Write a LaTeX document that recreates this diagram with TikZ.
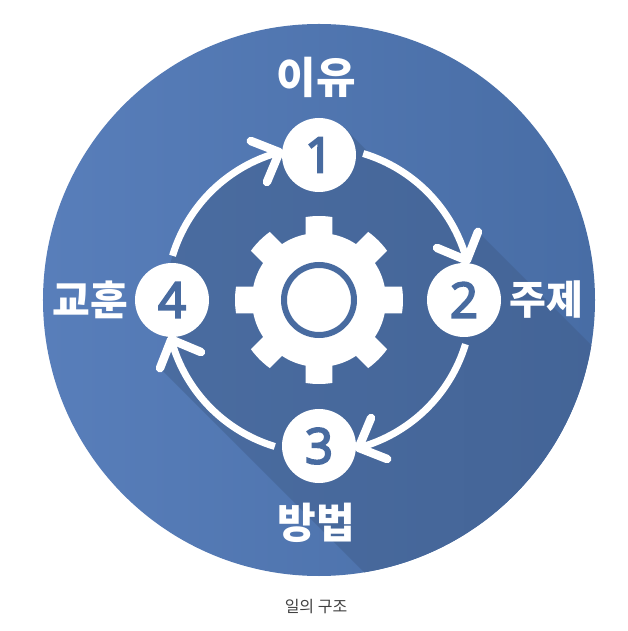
\documentclass[tikz,border=0pt]{standalone}
\usepackage{fontspec}
\setmainfont{Noto Sans CJK KR}
\newfontfamily\numfont[FakeBold=4]{Open Sans}
\definecolor{discL}{RGB}{88,126,186}
\definecolor{discR}{RGB}{72,109,165}
\definecolor{darkL}{RGB}{74,108,160}
\definecolor{darkR}{RGB}{65,97,147}
\definecolor{numblue}{RGB}{72,107,160}
\definecolor{captiongray}{RGB}{65,65,65}
\tikzset{
  stepdot/.style={circle,fill=white,minimum size=74pt,inner sep=0pt,text=numblue,font=\numfont\fontsize{49}{49}\selectfont},
  title/.style={text=white,font=\bfseries\fontsize{#1}{#1}\selectfont,inner sep=0pt},
  flow/.style={draw=white,line width=7pt},
  flowhead/.style={draw=white,line width=8.5pt,line cap=round,line join=round},
}
\begin{document}
\begin{tikzpicture}[x=1pt,y=1pt]
\useasboundingbox (-319,-331) rectangle (309,300);
\shade[left color=discL,right color=discR] (0,0) circle[radius=276];
\begin{scope}
\clip (0,0) circle[radius=276];
\shade[left color=darkL,right color=darkR]
  (-159,-68) -- (141,-368) -- (459,-232) -- (159,68) -- (15:153)
  arc[start angle=15,end angle=195,radius=153] -- cycle;
\fill[darkL!70!darkR] (26,171) -- (54,143) -- (0,145) -- cycle;
\fill[darkL] (-170,-29) -- (-148,-40) -- (-147,0) -- cycle;
\end{scope}
% gear
\foreach \r in {0,45,...,315}
  \fill[white,rotate=\r] (-13.5,50) -- (99.13:84) arc[start angle=99.13,end angle=80.87,radius=84] -- (13.5,50) -- cycle;
\fill[white] (0,0) circle[radius=67];
\draw[numblue,line width=6pt] (0,0) circle[radius=35];
% steps
\node[stepdot] (c1) at (0,145) {1};
\node[stepdot] (c2) at (145,0) {2};
\node[stepdot] (c3) at (0,-146) {3};
\node[stepdot] (c4) at (-147,0) {4};
% arrows
\foreach \i/\a in {1/0,2/-90,3/-180,4/-270}{
  \coordinate (s\i) at (\a+73.2:153);
  \coordinate (t\i) at (\a+15:153);
  \coordinate (ha\i) at (\a+23.2:173);
  \coordinate (hb\i) at (\a+23.8:129);
  \draw[flow] (s\i) arc[start angle=\a+73.2,end angle=\a+15,radius=153];
  \draw[flowhead] (ha\i) -- (t\i) -- (hb\i);
}
% labels
\node[title=43] (l1) at (-3,223) {이유};
\node[title=40] (l2) at (227,0) {주제};
\node[title=41] (l4) at (-228.5,0) {교훈};
\node[title=42] (l3) at (-3,-223) {방법};
\node[text=captiongray,font=\fontsize{16}{16}\selectfont,inner sep=0pt] (cap) at (-3,-307) {일의 구조};
\end{tikzpicture}
\end{document}
